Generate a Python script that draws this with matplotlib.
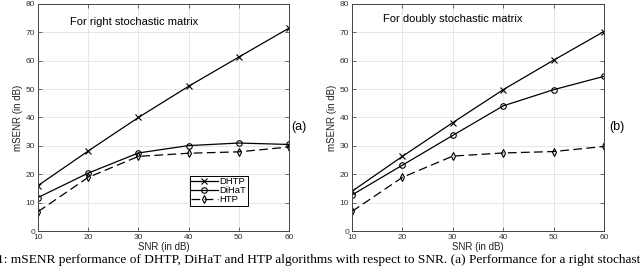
import matplotlib
matplotlib.use("Agg")
import matplotlib.pyplot as plt

snr = [10, 20, 30, 40, 50, 60]

right_dhtp = [16.0, 28.2, 40.0, 51.0, 61.3, 71.5]
right_dihat = [11.8, 20.4, 27.5, 30.1, 31.0, 30.5]
right_htp = [6.8, 18.9, 26.3, 27.4, 27.9, 29.6]

doubly_dhtp = [14.0, 26.3, 38.2, 49.8, 60.2, 70.3]
doubly_dihat = [12.7, 23.2, 33.7, 44.1, 49.8, 54.5]
doubly_htp = [6.9, 18.9, 26.4, 27.5, 28.0, 29.8]

yticks = [0, 10, 20, 30, 40, 50, 60, 70, 80]

plt.rcParams["font.family"] = ["Liberation Sans", "DejaVu Sans"]

fig = plt.figure(figsize=(6.4, 2.7), dpi=100)
ax_a = fig.add_axes([38 / 640, 1 - 231 / 270, 251 / 640, 227 / 270])
ax_b = fig.add_axes([352 / 640, 1 - 231 / 270, 252 / 640, 227 / 270])


def style_axes(ax):
    ax.set_xlim(10, 60)
    ax.set_ylim(0, 80)
    ax.set_xticks(snr)
    ax.set_yticks(yticks)
    ax.grid(True, color="#e3e3e3", linewidth=0.6)
    ax.set_axisbelow(True)
    ax.tick_params(direction="in", length=3, width=0.5, labelsize=6,
                   colors="#333333", top=True, right=True, pad=2)
    for s in ax.spines.values():
        s.set_color("#444444")
        s.set_linewidth(0.7)
    ax.set_xlabel("SNR (in dB)", fontsize=7, labelpad=1, color="#222222")
    ax.set_ylabel("mSENR (in dB)", fontsize=7, labelpad=2, color="#222222")


def draw(ax, dhtp, dihat, htp):
    kw = dict(color="black", linewidth=0.9, markersize=4, markeredgewidth=0.8)
    ax.plot(snr, dhtp, marker="x", label="DHTP", **kw)
    ax.plot(snr, dihat, marker="o", markerfacecolor="none", label="DiHaT", **kw)
    ax.plot(snr, htp, marker="d", markerfacecolor="none", linestyle=(0, (7, 3.5)),
            label="HTP", **kw)


draw(ax_a, right_dhtp, right_dihat, right_htp)
style_axes(ax_a)
ax_a.text(0.127, 0.92, "For right stochastic matrix", transform=ax_a.transAxes,
          fontsize=8, va="center")
leg = ax_a.legend(loc="upper left", bbox_to_anchor=(0.605, 0.243), fontsize=6.8,
                  handlelength=2.8, handletextpad=0.2, borderpad=0.15,
                  labelspacing=0.0, fancybox=False, framealpha=1,
                  edgecolor="black", borderaxespad=0)
leg.get_frame().set_linewidth(0.7)

draw(ax_b, doubly_dhtp, doubly_dihat, doubly_htp)
style_axes(ax_b)
ax_b.text(0.123, 0.933, "For doubly stochastic matrix", transform=ax_b.transAxes,
          fontsize=8, va="center")

fig.text(291 / 640, 1 - 127 / 270, "(a)", fontsize=9, va="center")
fig.text(609 / 640, 1 - 127 / 270, "(b)", fontsize=9, va="center")

fig.text(-0.005, 1 - 260 / 270,
         "1: mSENR performance of DHTP, DiHaT and HTP algorithms with respect to SNR. "
         "(a) Performance for a right stochastic matrix",
         fontsize=9.6, family=["Liberation Serif", "DejaVu Serif"], va="center")

fig.savefig("out.png", dpi=100)
